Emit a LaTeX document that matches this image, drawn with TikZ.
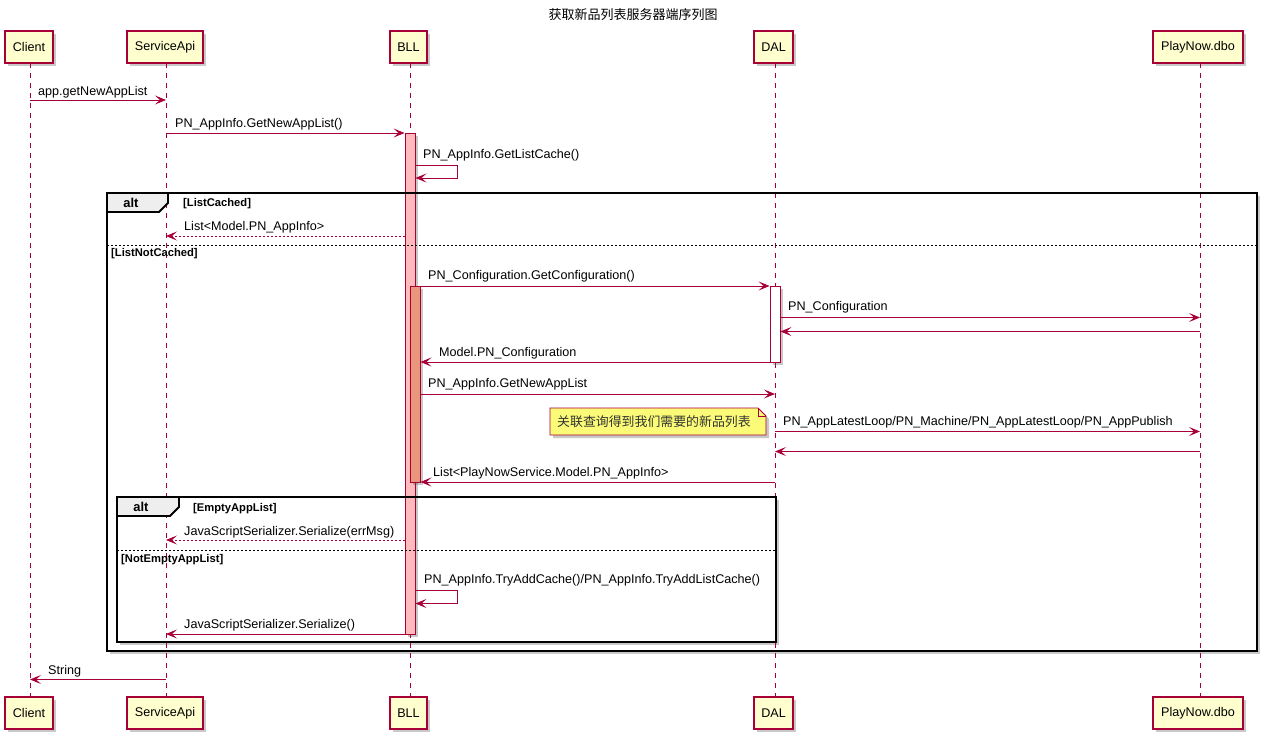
\documentclass[tikz,border=0pt]{standalone}
\usepackage{fontspec}
\setmainfont{Liberation Sans}
\newfontfamily\cjk{Noto Sans CJK SC}
\usetikzlibrary{arrows.meta,shadows}
\definecolor{pu}{HTML}{A80036}
\definecolor{pfill}{HTML}{FEFECE}
\definecolor{actlight}{HTML}{FFBBBB}
\definecolor{actdark}{HTML}{E9967A}
\definecolor{notefill}{HTML}{FBFB77}
\definecolor{tabfill}{HTML}{EEEEEE}
\tikzset{
  shad/.style={drop shadow={shadow xshift=3pt,shadow yshift=-3pt,opacity=0.3,fill=black!70}},
  part/.style={draw=pu,line width=1.2pt,fill=pfill,font=\fontsize{12.6}{14}\selectfont,
    minimum height=32pt,inner sep=0pt,shad},
  life/.style={draw=pu,line width=0.9pt,dash pattern=on 5pt off 5pt},
  actbox/.style={draw=pu,line width=0.9pt,minimum width=10pt,inner sep=0pt,shad},
  msg/.style={draw=pu,line width=0.9pt,-{Stealth[length=11pt,width=9pt,inset=5pt]}},
  ret/.style={msg,dash pattern=on 2pt off 2pt},
  lbl/.style={font=\fontsize{12.6}{14}\selectfont,inner sep=0pt,anchor=base west},
  framebg/.style={fill=white,shad},
  frameline/.style={draw=black,line width=1.8pt},
  sepline/.style={draw=black,line width=0.8pt,dash pattern=on 2pt off 2pt},
  altlbl/.style={font=\bfseries\fontsize{12.9}{14}\selectfont,inner sep=0pt},
  guard/.style={font=\bfseries\fontsize{11.2}{13}\selectfont,inner sep=0pt,anchor=base west},
  titl/.style={font=\cjk\fontsize{13}{15}\selectfont,inner sep=0pt},
  notetxt/.style={font=\cjk\fontsize{12.9}{15}\selectfont,inner sep=0pt,anchor=west,text=black!80}
}
\begin{document}
\begin{tikzpicture}[x=1pt,y=-1pt]
\useasboundingbox (0,0) rectangle (1267,735);

% title
\node[titl] (title) at (633,15) {获取新品列表服务器端序列图};

% frame backgrounds with shadows
\path[framebg] (107,193) rectangle (1257,651);
\path[framebg] (117,497) rectangle (776,642);

% participants (top)
\node[part,minimum width=48pt] (clientT) at (29,47) {Client};
\node[part,minimum width=76pt] (svcT) at (165,47) {ServiceApi};
\node[part,minimum width=37pt] (bllT) at (408.5,47) {BLL};
\node[part,minimum width=39pt] (dalT) at (773.5,47) {DAL};
\node[part,minimum width=90pt] (pnT) at (1198,47) {PlayNow.dbo};
% participants (bottom)
\node[part,minimum width=48pt] (clientB) at (29,713) {Client};
\node[part,minimum width=76pt] (svcB) at (165,713) {ServiceApi};
\node[part,minimum width=37pt] (bllB) at (408.5,713) {BLL};
\node[part,minimum width=39pt] (dalB) at (773.5,713) {DAL};
\node[part,minimum width=90pt] (pnB) at (1198,713) {PlayNow.dbo};

% lifelines
\coordinate (cl) at (30,63);
\coordinate (sa) at (166,63);
\coordinate (bl) at (410,63);
\coordinate (da) at (775,63);
\coordinate (pn) at (1200,63);
\draw[life] (cl) -- (cl |- clientB.north);
\draw[life] (sa) -- (sa |- svcB.north);
\draw[life] (bl) -- (bl |- bllB.north);
\draw[life] (da) -- (da |- dalB.north);
\draw[life] (pn) -- (pn |- pnB.north);

% activations
\node[actbox,fill=actlight,minimum height=501pt] (a1) at (410,383.5) {};
\node[actbox,fill=actdark,minimum height=196pt] (a2) at (415,384) {};
\node[actbox,fill=white,minimum height=76pt] (a3) at (775,324) {};

% frames
\draw[frameline] (107,193) rectangle (1257,651);
\draw[frameline,fill=tabfill] (107,193) -- (168,193) -- (168,203) -- (159,212) -- (107,212) -- cycle;
\node[altlbl] (alt1) at (131,203) {alt};
\node[guard] (g1) at (183,207) {[ListCached]};
\draw[sepline] (107,245.5) -- (1257,245.5);
\node[guard] (g2) at (111,257) {[ListNotCached]};

\draw[frameline] (117,497) rectangle (776,642);
\draw[frameline,fill=tabfill] (117,497) -- (179,497) -- (179,507) -- (170,516) -- (117,516) -- cycle;
\node[altlbl] (alt2) at (141,507) {alt};
\node[guard] (g3) at (193,511) {[EmptyAppList]};
\draw[sepline] (117,550.5) -- (776,550.5);
\node[guard] (g4) at (121,562) {[NotEmptyAppList]};

% note
\path[draw=pu,line width=0.9pt,fill=notefill,shad] (550,408) -- (758,408) -- (766,416) -- (766,435) -- (550,435) -- cycle;
\draw[pu,line width=0.9pt] (758,408) -- (758,416) -- (766,416);
\node[notetxt] (note) at (557,422) {关联查询得到我们需要的新品列表};

% messages
\draw[msg] (cl |- 0,100) -- (sa |- 0,100);
\node[lbl] (m1) at (38,95.5) {app.getNewAppList};

\draw[msg] (sa |- 0,133) -- (a1.west |- 0,133);
\node[lbl] (m2) at (175,127.5) {PN\_AppInfo.GetNewAppList()};

\draw[msg] (a1.east |- 0,165) -- ++(42,0) -- ++(0,13) -- (a1.east |- 0,178);
\node[lbl] (m3) at (423,159) {PN\_AppInfo.GetListCache()};

\draw[ret] (a1.west |- 0,236) -- (sa |- 0,236);
\node[lbl] (m4) at (184,230.5) {List<Model.PN\_AppInfo>};

\draw[msg] (a2.east |- 0,286) -- (a3.west |- 0,286);
\node[lbl] (m5) at (428,279.5) {PN\_Configuration.GetConfiguration()};

\draw[msg] (a3.east |- 0,317.5) -- (pn |- 0,317.5);
\node[lbl] (m6) at (788,311) {PN\_Configuration};

\draw[msg] (pn |- 0,331.5) -- (a3.east |- 0,331.5);

\draw[msg] (a3.west |- 0,362) -- (a2.east |- 0,362);
\node[lbl] (m7) at (439,356) {Model.PN\_Configuration};

\draw[msg] (a2.east |- 0,394) -- (da |- 0,394);
\node[lbl] (m8) at (428,388) {PN\_AppInfo.GetNewAppList};

\draw[msg] (da |- 0,431.5) -- (pn |- 0,431.5);
\node[lbl] (m9) at (783,425) {PN\_AppLatestLoop/PN\_Machine/PN\_AppLatestLoop/PN\_AppPublish};

\draw[msg] (pn |- 0,451.5) -- (da |- 0,451.5);

\draw[msg] (da |- 0,482) -- (a2.east |- 0,482);
\node[lbl] (m10) at (433,476) {List<PlayNowService.Model.PN\_AppInfo>};

\draw[ret] (a1.west |- 0,540) -- (sa |- 0,540);
\node[lbl] (m11) at (184,535) {JavaScriptSerializer.Serialize(errMsg)};

\draw[msg] (a1.east |- 0,590.5) -- ++(42,0) -- ++(0,13) -- (a1.east |- 0,603.5);
\node[lbl] (m12) at (424,583.5) {PN\_AppInfo.TryAddCache()/PN\_AppInfo.TryAddListCache()};

\draw[msg] (a1.west |- 0,634) -- (sa |- 0,634);
\node[lbl] (m13) at (184,628.5) {JavaScriptSerializer.Serialize()};

\draw[msg] (sa |- 0,679.5) -- (cl |- 0,679.5);
\node[lbl] (m14) at (48,674) {String};
\end{tikzpicture}
\end{document}
